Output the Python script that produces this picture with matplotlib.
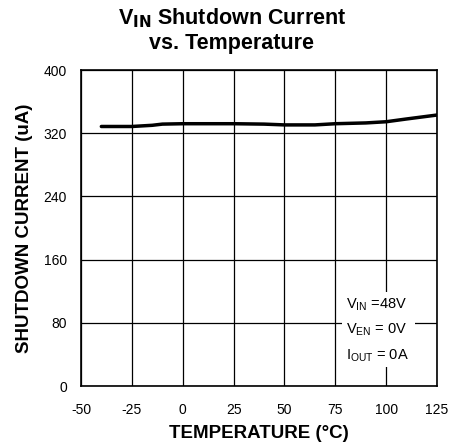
import matplotlib
matplotlib.use('Agg')
import matplotlib.pyplot as plt
from matplotlib.patches import Rectangle

plt.rcParams['font.family'] = ['Liberation Sans', 'DejaVu Sans']
plt.rcParams['axes.unicode_minus'] = False

# data
temp = [-40, -25, -15, -10, 0, 25, 40, 50, 65, 75, 90, 100, 110, 125]
current = [328.5, 328.5, 330, 331.5, 332, 332, 331.5, 330.5, 330.5, 332, 333, 334.5, 338, 343]

xticks = [-50, -25, 0, 25, 50, 75, 100, 125]
yticks = [0, 80, 160, 240, 320, 400]

fig = plt.figure(figsize=(4.64, 4.48), dpi=100)
ax = fig.add_axes([81/464, 1-386/448, (437-81)/464, (386-70)/448])

ax.plot(temp, current, color='black', linewidth=2.5, solid_capstyle='round', zorder=3)

ax.set_xlim(-50, 125)
ax.set_ylim(0, 400)
ax.set_xticks(xticks)
ax.set_yticks(yticks)
ax.grid(True, color='black', linewidth=0.9, zorder=1)
ax.set_axisbelow(True)
ax.tick_params(axis='x', length=0, labelsize=10, pad=12)
ax.tick_params(axis='y', length=0, labelsize=10, pad=10)
for s in ax.spines.values():
    s.set_linewidth(1.2)

ax.set_xlabel('TEMPERATURE (°C)', fontsize=13.5, fontweight='bold', labelpad=6)
ax.set_ylabel('SHUTDOWN CURRENT (uA)', fontsize=13.5, fontweight='bold', labelpad=8)

fig.text(0.5, 1-18/448, r'V$_{\mathbf{IN}}$ Shutdown Current', ha='center', va='center',
         fontsize=15.5, fontweight='bold')
fig.text(0.5, 1-44/448, 'vs. Temperature', ha='center', va='center',
         fontsize=15.5, fontweight='bold')

# annotation box (white patch hides the grid)
ax.add_patch(Rectangle((78.3, 24), 36, 95, facecolor='white', edgecolor='none', zorder=2))
ax.text(80.3, 102.5, 'V$_{\\mathregular{IN}}$ =48V', fontsize=10.5, ha='left', va='center', zorder=4)
ax.text(80.3, 71, 'V$_{\\mathregular{EN}}$ = 0V', fontsize=10.5, ha='left', va='center', zorder=4)
ax.text(80.3, 38, 'I$_{\\mathregular{OUT}}$ = 0A', fontsize=10.5, ha='left', va='center', zorder=4)

fig.savefig('out.png', dpi=100)
